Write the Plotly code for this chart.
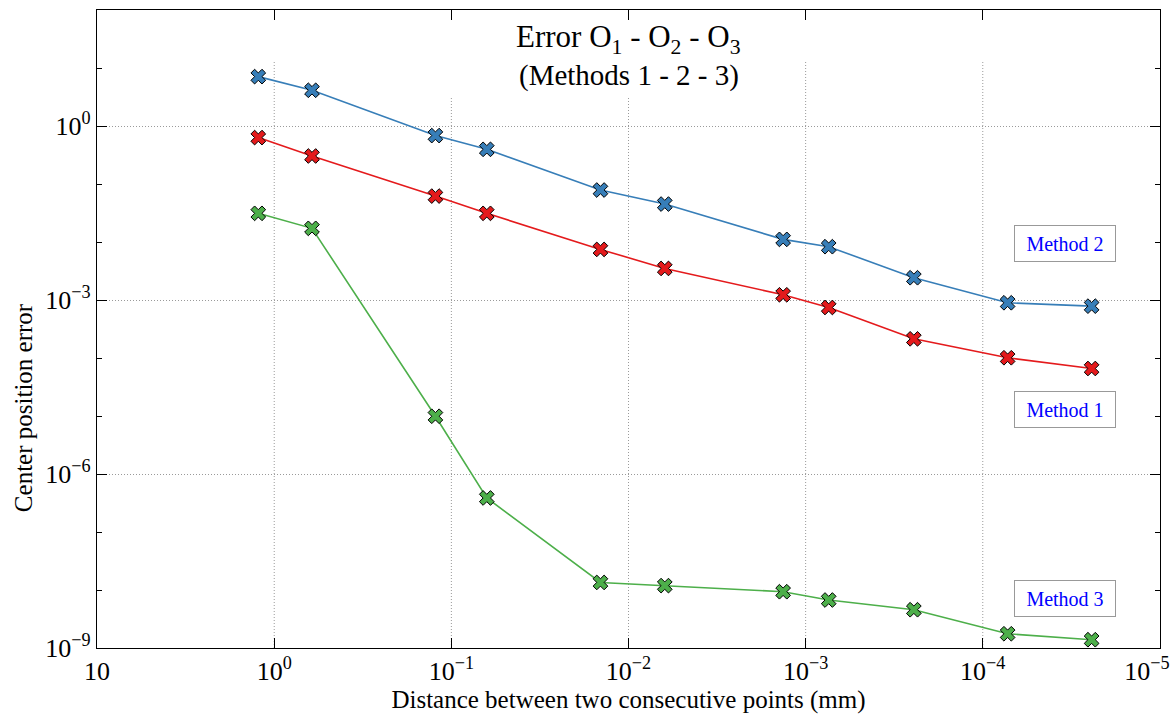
import math
import plotly.graph_objects as go

# ---- data ----
distance_mm = [1.23, 0.612, 0.123, 0.0631, 0.0144, 0.00624, 0.00134, 0.000741, 0.000245, 0.0000724, 0.0000243]
method1 = [0.631, 0.304, 0.0619, 0.0312, 0.00745, 0.0035, 0.00123, 0.000743, 0.000214, 0.000101, 0.0000659]
method2 = [7.1, 4.13, 0.683, 0.396, 0.0787, 0.0451, 0.0111, 0.0083, 0.00242, 0.000896, 0.000783]
method3 = [0.0312, 0.0172, 9.9e-6, 3.86e-7, 1.35e-8, 1.19e-8, 9.34e-9, 6.72e-9, 4.57e-9, 1.76e-9, 1.39e-9]

x_tickvals = [10, 1, 0.1, 0.01, 0.001, 0.0001, 0.00001]
x_ticktext = ["10", "10<sup>0</sup>", "10<sup>\u22121</sup>", "10<sup>\u22122</sup>",
              "10<sup>\u22123</sup>", "10<sup>\u22124</sup>", "10<sup>\u22125</sup>\u2003"]
y_tickvals = [1, 1e-3, 1e-6, 1e-9]
y_ticktext = ["10<sup>0</sup>", "10<sup>\u22123</sup>", "10<sup>\u22126</sup>", "10<sup>\u22129</sup>"]
y_minorvals = [10, 1e-1, 1e-2, 1e-4, 1e-5, 1e-7, 1e-8]

series = [
    ("Method 1", method1, "#e41a1c"),
    ("Method 2", method2, "#377eb8"),
    ("Method 3", method3, "#4daf4a"),
]

FONT = "Liberation Serif"
GRID = "#9a9a9a"
X_RANGE = [1.0005, -5.0005]

fig = go.Figure()
for name, vals, col in series:
    fig.add_trace(go.Scatter(
        x=distance_mm, y=vals, mode="lines+markers", name=name,
        line=dict(color=col, width=1.6),
        marker=dict(symbol="x", size=13, color=col, line=dict(color="black", width=1)),
        showlegend=False,
    ))

axis_common = dict(
    type="log", showline=True, linecolor="black", linewidth=1.3, mirror="ticks",
    ticks="inside", ticklen=10, tickcolor="black", tickwidth=1,
    zeroline=False, tickfont=dict(family=FONT, size=26, color="black"),
    automargin=False, ticklabeloverflow="allow",
)

fig.update_xaxes(
    **axis_common, range=X_RANGE, tickmode="array", tickvals=x_tickvals, ticktext=x_ticktext,
    showgrid=False,
    title=dict(text="Distance between two consecutive points (mm)",
               font=dict(family=FONT, size=25, color="black"), standoff=15),
)
fig.update_yaxes(
    **axis_common, range=[-9, 2], tickmode="array", tickvals=y_tickvals, ticktext=y_ticktext,
    showgrid=True, gridcolor=GRID, griddash="1px,2px", gridwidth=1,
    minor=dict(tickmode="array", tickvals=y_minorvals, ticks="inside", ticklen=5,
               tickcolor="black", showgrid=False),
)

# vertical grid lines, interrupted behind the title block (as in the reference)
for tv in x_tickvals:
    frac = (math.log10(tv) - X_RANGE[0]) / (X_RANGE[1] - X_RANGE[0])
    if frac <= 0.001 or frac >= 0.999:
        continue
    if 0.285 <= frac <= 0.643:
        top = 0.864
    elif 0.15 <= frac <= 0.88:
        top = 0.921
    else:
        top = 1.0
    fig.add_shape(type="line", xref="x", yref="y domain", x0=tv, x1=tv, y0=0, y1=top,
                  line=dict(color=GRID, width=1, dash="1px,2px"), layer="below")

fig.add_annotation(text="Error O<sub>1</sub> - O<sub>2</sub> - O<sub>3</sub>", xref="paper", yref="paper",
                   x=0.5, y=0.954, xanchor="center", yanchor="middle", showarrow=False,
                   font=dict(family=FONT, size=31, color="black"))
fig.add_annotation(text="(Methods 1 - 2 - 3)", xref="paper", yref="paper",
                   x=0.5, y=0.897, xanchor="center", yanchor="middle", showarrow=False,
                   font=dict(family=FONT, size=29, color="black"))

# y axis title
fig.add_annotation(text="Center position error", xref="paper", yref="paper",
                   x=-0.069, y=0.377, xanchor="center", yanchor="middle", textangle=-90,
                   showarrow=False, font=dict(family=FONT, size=25, color="black"))

# method labels
for name, ypos in [("Method 2", 0.634), ("Method 1", 0.3744), ("Method 3", 0.0769)]:
    fig.add_annotation(text=name, xref="paper", yref="paper", x=0.9106, y=ypos,
                       xanchor="center", yanchor="middle", showarrow=False,
                       width=98, height=33, bgcolor="white", bordercolor="#999999",
                       borderwidth=1, borderpad=1,
                       font=dict(family=FONT, size=20, color="#0000ff"))

fig.update_layout(
    width=1174, height=714, margin=dict(l=97, r=14, t=10, b=66),
    plot_bgcolor="white", paper_bgcolor="white",
)

fig.write_html("out.html")
